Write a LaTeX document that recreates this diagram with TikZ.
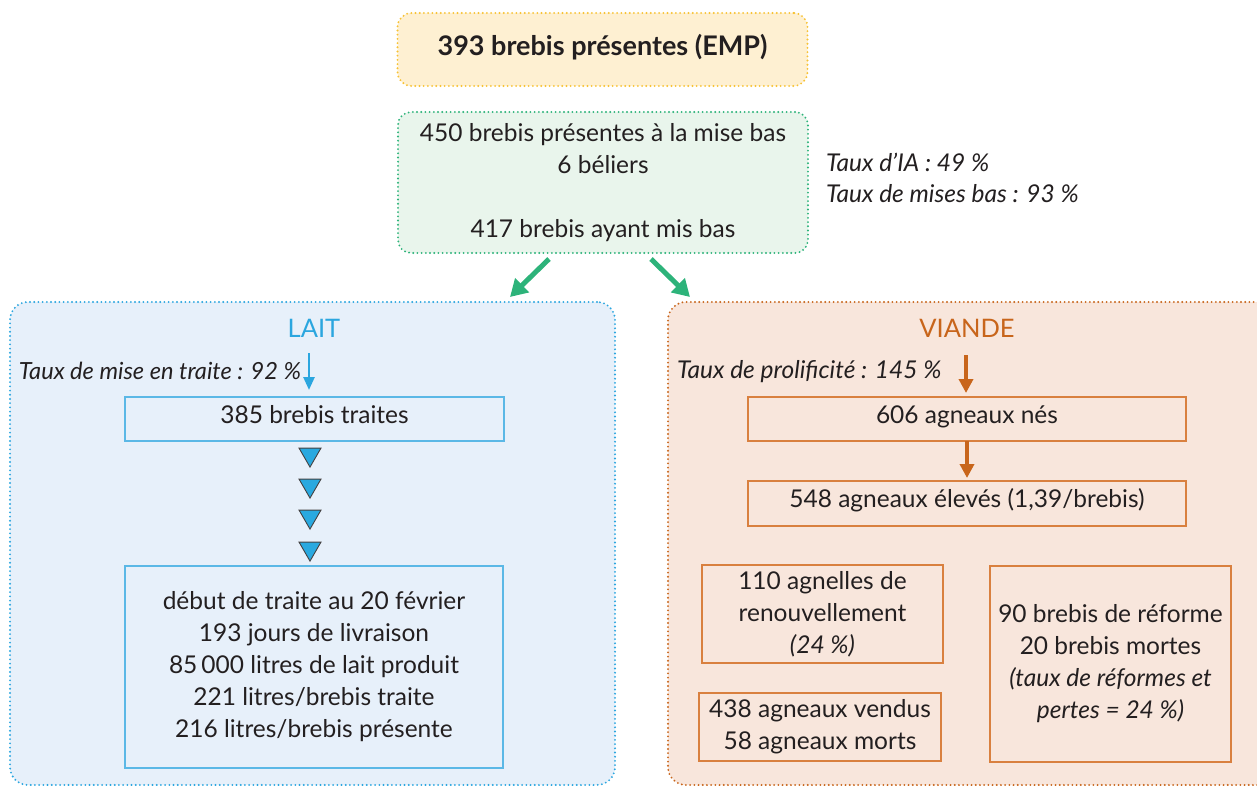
\documentclass[tikz,border=0pt]{standalone}
\usepackage{fontspec}
\setmainfont{Lato}
\usetikzlibrary{arrows.meta,shapes.geometric}
\definecolor{txt}{HTML}{231F20}
\definecolor{yelB}{HTML}{F7C235}
\definecolor{yelF}{HTML}{FEF0D2}
\definecolor{grnB}{HTML}{2DB37A}
\definecolor{grnF}{HTML}{E9F5EC}
\definecolor{bluB}{HTML}{2BA6DF}
\definecolor{bluF}{HTML}{E7F0FA}
\definecolor{bluBox}{HTML}{5BB8E6}
\definecolor{oraB}{HTML}{C8651B}
\definecolor{oraF}{HTML}{F8E6DC}
\definecolor{oraBox}{HTML}{D9803F}
\definecolor{triF}{HTML}{29A9E0}
\begin{document}
\begin{tikzpicture}[x=1pt,y=-1pt,
  every node/.style={text=txt, font=\fontsize{24.5}{32}\selectfont, inner sep=0pt, outer sep=0pt},
  dotline/.style={line width=2.1pt, dash pattern=on 0pt off 4.2pt, line cap=round},
  panel/.style={dotline, rounded corners=18pt},
  bluebox/.style={draw=bluBox, line width=1.1pt, fill=bluF, align=center},
  orabox/.style={draw=oraBox, line width=1.1pt, fill=oraF, align=center},
  oneline/.style={text height=17pt, text depth=9pt},
  tri/.style={regular polygon, regular polygon sides=3, shape border rotate=180, minimum size=25.4pt, fill=triF, draw=txt!85, line width=0.9pt},
  grnarrow/.style={draw=grnB, line width=5pt, -{Triangle[length=17pt,width=19pt]}},
  bluarrow/.style={draw=bluB, line width=2.6pt, -{Triangle[length=13pt,width=11pt]}},
  oraarrow/.style={draw=oraB, line width=4pt, -{Triangle[length=14pt,width=14pt]}},
  taux/.style={font=\fontsize{24.5}{32}\selectfont\itshape}
]
\path[use as bounding box] (0,0) rectangle (1257,786);
\clip (0,0) rectangle (1257,786);

% top boxes
\node[panel, rounded corners=14pt, draw=yelB, fill=yelF, minimum width=410pt, minimum height=73pt,
      font=\fontsize{27}{32}\selectfont\bfseries, text height=19pt, text depth=6pt] (emp) at (602.5,49.5) {393 brebis présentes (EMP)};
\node[panel, rounded corners=13pt, draw=grnB, fill=grnF, minimum width=410pt, minimum height=141pt, align=center] (gb) at (603,182.5)
  {450 brebis présentes à la mise bas\\6 béliers\\[32pt]417 brebis ayant mis bas};

\node[taux, anchor=base west] (tia) at (826,172) {Taux d’IA : 49 \%};
\node[taux, anchor=base west] (tmb) at (826,203) {Taux de mises bas : 93 \%};

% panels
\node[panel, draw=bluB, fill=bluF, minimum width=605pt, minimum height=483pt] (lait) at (312.5,543.5) {};
\node[panel, draw=oraB, fill=oraF, minimum width=612pt, minimum height=483pt] (viande) at (974,543.5) {};

% green arrows
\draw[grnarrow] ([xshift=-54pt,yshift=-6pt]gb.south) -- ([xshift=197.5pt,yshift=5pt]lait.north);
\draw[grnarrow] ([xshift=48pt,yshift=-6pt]gb.south) -- ([xshift=-284pt,yshift=5pt]viande.north);

% LAIT side
\node[anchor=base, text=bluB, font=\fontsize{25.5}{32}\selectfont] (laitT) at (314,337) {LAIT};
\node[taux, font=\fontsize{23.6}{32}\selectfont\itshape, anchor=base east] (tmt) at (301,379) {Taux de mise en traite : 92 \%};
\node[bluebox, oneline, minimum width=379pt, minimum height=44pt] (traites) at (314.5,419) {385 brebis traites};
\coordinate (bstart) at (309,353);
\draw[bluarrow, shorten >=7pt] (bstart) -- (bstart |- traites.north);
\node[tri] (t1) at (310,454.4) {};
\node[tri] (t2) at (310,485.4) {};
\node[tri] (t3) at (310,516.4) {};
\node[tri] (t4) at (310,548.4) {};
\node[bluebox, minimum width=378pt, minimum height=202pt] (bilan) at (314,667)
  {début de traite au 20 février\\193 jours de livraison\\85\,000 litres de lait produit\\221 litres/brebis traite\\216 litres/brebis présente};

% VIANDE side
\node[anchor=base, text=oraB, font=\fontsize{25.5}{32}\selectfont] (viandeT) at (967,337) {VIANDE};
\node[taux, anchor=base west] (tpr) at (677,378) {Taux de prolificité : 145 \%};
\node[orabox, oneline, minimum width=438pt, minimum height=44pt] (nes) at (967,419) {606 agneaux nés};
\node[orabox, oneline, minimum width=438pt, minimum height=45pt] (eleves) at (967,503.5) {548 agneaux élevés (1,39/brebis)};
\coordinate (ostart) at (966,355);
\draw[oraarrow, shorten >=4pt] (ostart) -- (ostart |- nes.north);
\draw[oraarrow, shorten >=3pt] (nes.south) -- (eleves.north);
\node[orabox, minimum width=241pt, minimum height=98pt] (agnelles) at (822.5,614)
  {110 agnelles de\\renouvellement\\\textit{(24 \%)}};
\node[orabox, minimum width=242pt, minimum height=68pt] (vendus) at (820,727)
  {438 agneaux vendus\\58 agneaux morts};
\node[orabox, minimum width=241pt, minimum height=196pt] (reforme) at (1110.5,664)
  {90 brebis de réforme\\20 brebis mortes\\\textit{(taux de réformes et}\\\textit{pertes = 24 \%)}};
\end{tikzpicture}
\end{document}
